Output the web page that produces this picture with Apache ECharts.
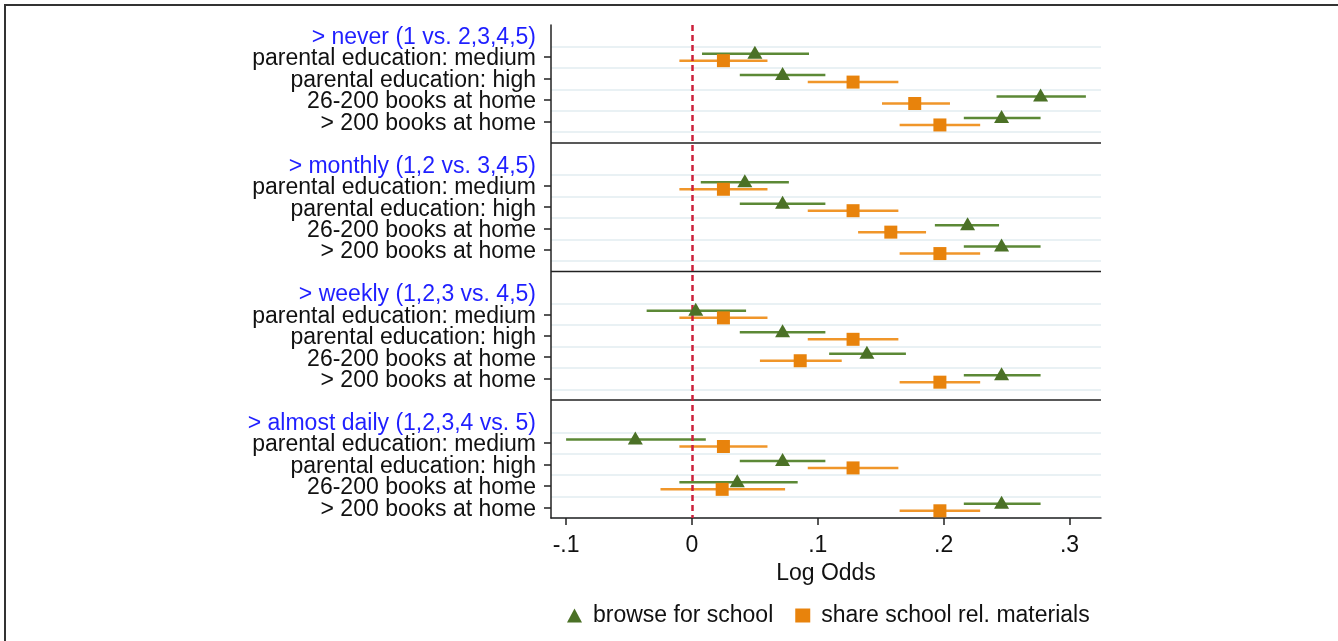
<!DOCTYPE html>
<html>
<head>
<meta charset="utf-8">
<title>Log odds by usage threshold</title>
<script src="https://cdn.jsdelivr.net/npm/echarts@6/dist/echarts.min.js"></script>
<style>
  html, body { margin: 0; padding: 0; background: #ffffff; }
  #chart { width: 1338px; height: 641px; }
</style>
</head>
<body>
<div id="chart"></div>
<script>
// Panel headings (usage thresholds) and the predictor rows inside each panel
const groupTitles = [
  '> never (1 vs. 2,3,4,5)',
  '> monthly (1,2 vs. 3,4,5)',
  '> weekly (1,2,3 vs. 4,5)',
  '> almost daily (1,2,3,4 vs. 5)'
];
const rowLabels = [
  'parental education: medium',
  'parental education: high',
  '26-200 books at home',
  '> 200 books at home'
];

// x axis ticks
const xTickValues = [-0.1, 0, 0.1, 0.2, 0.3];
const xTickLabels = ['-.1', '0', '.1', '.2', '.3'];

// browse for school: estimate and 95% CI, one row per panel, one entry per predictor
const browseEst = [
  [0.050, 0.072, 0.277, 0.246],
  [0.042, 0.072, 0.219, 0.246],
  [0.003, 0.072, 0.139, 0.246],
  [-0.045, 0.072, 0.036, 0.246]
];
const browseLo = [
  [0.008, 0.038, 0.242, 0.216],
  [0.007, 0.038, 0.193, 0.216],
  [-0.036, 0.038, 0.109, 0.216],
  [-0.100, 0.038, -0.010, 0.216]
];
const browseHi = [
  [0.093, 0.106, 0.313, 0.277],
  [0.077, 0.106, 0.244, 0.277],
  [0.043, 0.106, 0.170, 0.277],
  [0.011, 0.106, 0.084, 0.277]
];

// share school rel. materials: estimate and 95% CI
const shareEst = [
  [0.025, 0.128, 0.177, 0.197],
  [0.025, 0.128, 0.158, 0.197],
  [0.025, 0.128, 0.086, 0.197],
  [0.025, 0.128, 0.024, 0.197]
];
const shareLo = [
  [-0.010, 0.092, 0.151, 0.165],
  [-0.010, 0.092, 0.132, 0.165],
  [-0.010, 0.092, 0.054, 0.165],
  [-0.010, 0.092, -0.025, 0.165]
];
const shareHi = [
  [0.060, 0.164, 0.205, 0.229],
  [0.060, 0.164, 0.186, 0.229],
  [0.060, 0.164, 0.119, 0.229],
  [0.060, 0.164, 0.074, 0.229]
];

const FONT = '"Liberation Sans", Arial, Helvetica, sans-serif';
const INK = '#111111';
const AXIS = '#222222';

// One category slot per heading, per predictor row and per gap between panels
const categories = [];
const catKind = [];
const rowSlot = [];
groupTitles.forEach((title, gi) => {
  categories.push(title); catKind.push('title');
  rowSlot.push([]);
  rowLabels.forEach(label => {
    rowSlot[gi].push(categories.length);
    categories.push(label); catKind.push('row');
  });
  if (gi < groupTitles.length - 1) { categories.push(''); catKind.push('sep'); }
});
const sepSlots = catKind.map((k, i) => (k === 'sep' ? i : -1)).filter(i => i >= 0);

function pointData(est) {
  const out = [];
  est.forEach((row, gi) => row.forEach((v, ri) => out.push([v, rowSlot[gi][ri]])));
  return out;
}
function ciData(lo, hi) {
  const out = [];
  lo.forEach((row, gi) => row.forEach((v, ri) => out.push([v, hi[gi][ri], rowSlot[gi][ri]])));
  return out;
}

// Horizontal confidence-interval segment, nudged up or down within its row
function ciRenderer(offset, color) {
  return function (params, api) {
    const slot = api.value(2);
    const a = api.coord([api.value(0), slot]);
    const b = api.coord([api.value(1), slot]);
    return {
      type: 'line',
      shape: { x1: a[0], y1: a[1] + offset, x2: b[0], y2: b[1] + offset },
      style: { stroke: color, lineWidth: 2.5 }
    };
  };
}

// Black rule separating the panels
function sepRenderer(params, api) {
  const cs = params.coordSys;
  const p = api.coord([0, api.value(0)]);
  return {
    type: 'line',
    shape: { x1: cs.x, y1: p[1], x2: cs.x + cs.width, y2: p[1] },
    style: { stroke: AXIS, lineWidth: 1.5 }
  };
}

const GREEN = '#4b7126';
const GREEN_LINE = '#5c8936';
const ORANGE = '#e8830c';
const ORANGE_LINE = '#f0962a';

const chart = echarts.init(document.getElementById('chart'), null, { renderer: 'canvas' });
chart.setOption({
  animation: false,
  backgroundColor: '#ffffff',
  textStyle: { fontFamily: FONT },
  grid: { left: 551, right: 237, top: 25, bottom: 123 },
  graphic: [{
    type: 'polyline',
    shape: { points: [[5, 641], [5, 5], [1338, 5]] },
    style: { stroke: '#333333', lineWidth: 2, fill: null },
    silent: true
  }],
  legend: {
    data: ['browse for school', 'share school rel. materials'],
    left: 562,
    top: 599,
    itemWidth: 15,
    itemHeight: 14,
    itemGap: 22,
    textStyle: { fontSize: 23, color: INK, fontFamily: FONT, padding: [0, 0, 0, 6] }
  },
  xAxis: {
    type: 'value',
    min: -0.112,
    max: 0.325,
    splitLine: { show: false },
    axisLine: { show: true, onZero: false, lineStyle: { color: AXIS, width: 1.5 } },
    axisTick: { show: true, customValues: xTickValues, length: 7, lineStyle: { color: AXIS, width: 1.5 } },
    axisLabel: {
      customValues: xTickValues,
      fontSize: 23, color: INK, fontFamily: FONT, margin: 16,
      formatter: v => {
        const i = xTickValues.findIndex(t => Math.abs(t - v) < 1e-9);
        return i >= 0 ? xTickLabels[i] : '';
      }
    },
    name: 'Log Odds',
    nameLocation: 'middle',
    nameGap: 35,
    nameTextStyle: { fontSize: 23, color: INK, fontFamily: FONT }
  },
  yAxis: {
    type: 'category',
    data: categories,
    inverse: true,
    boundaryGap: true,
    axisLine: { show: true, onZero: false, lineStyle: { color: AXIS, width: 1.5 } },
    axisTick: {
      show: true, alignWithLabel: true, length: 7,
      interval: i => catKind[i] === 'row',
      lineStyle: { color: AXIS, width: 1.5 }
    },
    axisLabel: {
      interval: 0, margin: 15, fontSize: 23, color: INK, fontFamily: FONT,
      padding: [4, 0, 0, 0],
      formatter: (v, i) => (catKind[i] === 'title' ? '{t|' + v + '}' : v),
      rich: { t: { color: '#1f1fff', fontSize: 23, fontFamily: FONT } }
    },
    splitLine: {
      show: true,
      interval: i => i % 6 !== 0,
      lineStyle: { color: '#e2edf0', width: 1.5 }
    }
  },
  series: [
    {
      name: 'panel rules',
      type: 'custom',
      renderItem: sepRenderer,
      encode: { y: 0 },
      data: sepSlots.map(s => [s]),
      silent: true,
      z: 1
    },
    {
      name: 'browse CI',
      type: 'custom',
      renderItem: ciRenderer(-3.5, GREEN_LINE),
      encode: { x: [0, 1], y: 2 },
      data: ciData(browseLo, browseHi),
      silent: true,
      z: 2
    },
    {
      name: 'share CI',
      type: 'custom',
      renderItem: ciRenderer(3.5, ORANGE_LINE),
      encode: { x: [0, 1], y: 2 },
      data: ciData(shareLo, shareHi),
      silent: true,
      z: 2
    },
    {
      name: 'browse for school',
      type: 'scatter',
      symbol: 'triangle',
      symbolSize: [15, 13],
      symbolOffset: [0, -5],
      itemStyle: { color: GREEN, opacity: 1 },
      data: pointData(browseEst),
      z: 4,
      markLine: {
        silent: true,
        symbol: 'none',
        label: { show: false },
        lineStyle: { color: '#cc1f3a', type: [6, 4], width: 2.5 },
        data: [{ xAxis: 0 }],
        z: 3
      }
    },
    {
      name: 'share school rel. materials',
      type: 'scatter',
      symbol: 'rect',
      symbolSize: 13,
      symbolOffset: [0, 3.5],
      itemStyle: { color: ORANGE, opacity: 1 },
      data: pointData(shareEst),
      z: 4
    }
  ]
});
</script>
</body>
</html>
